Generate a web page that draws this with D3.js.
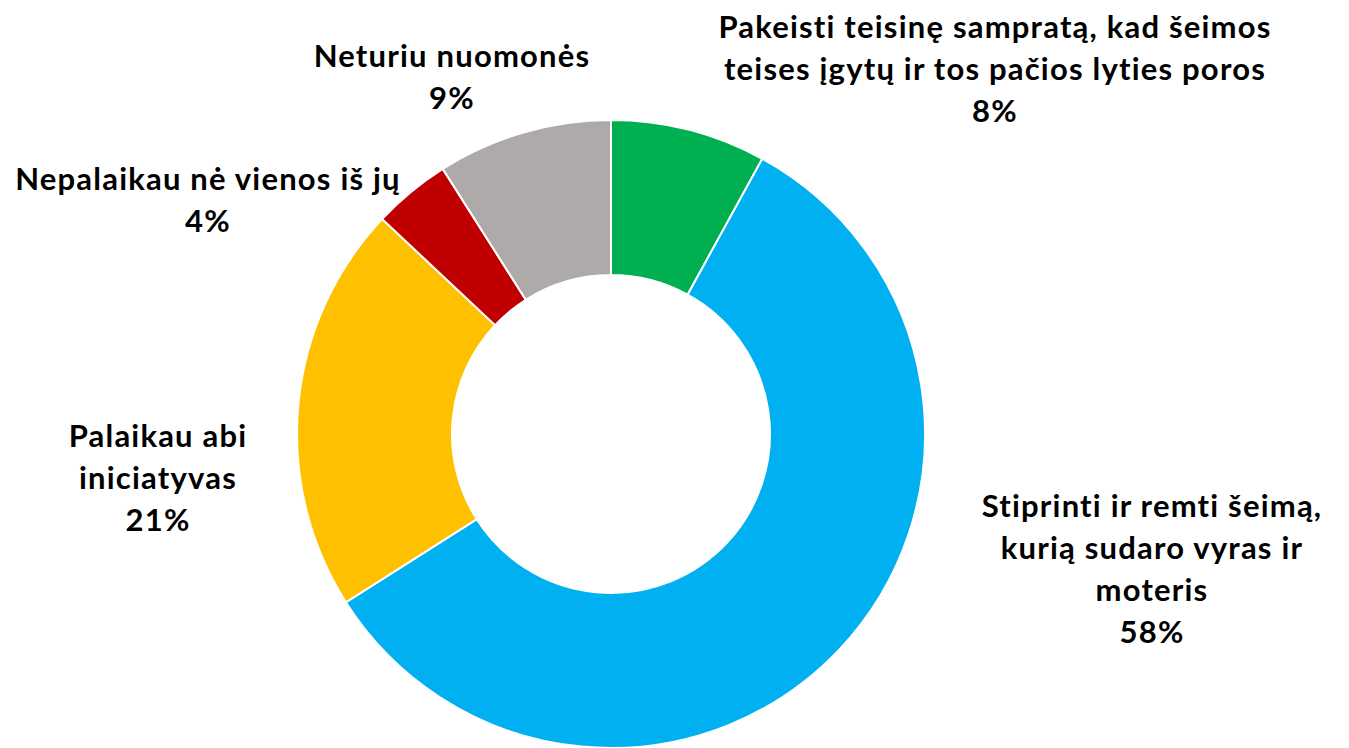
<!DOCTYPE html>
<html><head><meta charset="utf-8">
<script src="https://cdn.jsdelivr.net/npm/d3@7"></script>
<style>body{margin:0;background:#fff;} svg{display:block;}</style>
</head><body>
<svg id="chart" width="1349" height="748"></svg>
<script>
const categories = [
  "Pakeisti teisinę sampratą, kad šeimos teises įgytų ir tos pačios lyties poros",
  "Stiprinti ir remti šeimą, kurią sudaro vyras ir moteris",
  "Palaikau abi iniciatyvas",
  "Nepalaikau nė vienos iš jų",
  "Neturiu nuomonės"
];
const values = [8, 58, 21, 4, 9];
const labelLines = [
  ["Pakeisti teisinę sampratą, kad šeimos", "teises įgytų ir tos pačios lyties poros"],
  ["Stiprinti ir remti šeimą,", "kurią sudaro vyras ir", "moteris"],
  ["Palaikau abi", "iniciatyvas"],
  ["Nepalaikau nė vienos iš jų"],
  ["Neturiu nuomonės"]
];
const colors = ["#00b050", "#00b0f0", "#ffc000", "#c00000", "#aeaaaa"];
// label anchor (center x, first baseline y)
const labelPos = [[995, 38], [1152, 517], [158, 447], [208, 190], [452, 67]];

const svg = d3.select("#chart");
const cx = 611, cy = 434, rOuter = 314, rInner = 159;
const g = svg.append("g").attr("transform", `translate(${cx},${cy})`);
const pie = d3.pie().sort(null).value(d => d)(values);
const arc = d3.arc().innerRadius(rInner).outerRadius(rOuter);
g.selectAll("path").data(pie).join("path")
  .attr("d", arc)
  .attr("fill", (d, i) => colors[i])
  .attr("stroke", "#fff").attr("stroke-width", 2);

const fmt = d3.format(".0f");
const lh = 42;
labelLines.forEach((lines, i) => {
  const t = svg.append("text")
    .attr("text-anchor", "middle")
    .attr("font-family", "Lato, 'Open Sans', sans-serif")
    .attr("font-weight", 700)
    .attr("font-size", 31)
    .attr("letter-spacing", 1.2)
    .attr("fill", "#000");
  const all = lines.concat([fmt(values[i]) + "%"]);
  all.forEach((s, j) => {
    t.append("tspan").attr("x", labelPos[i][0]).attr("y", labelPos[i][1] + j * lh).text(s);
  });
});
</script>
</body></html>
